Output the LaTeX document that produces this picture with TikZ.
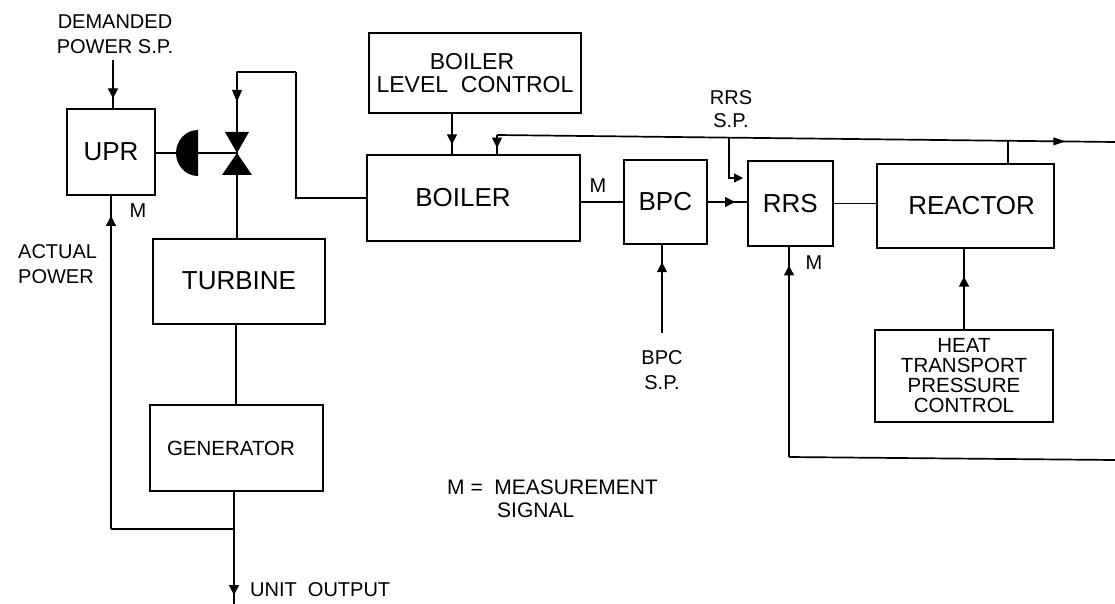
\documentclass[tikz,border=0pt]{standalone}
\usepackage{fontspec}
\setmainfont{Liberation Sans}
\usetikzlibrary{arrows.meta}
\usetikzlibrary{positioning}
\usetikzlibrary{calc}
\usetikzlibrary{decorations.markings}

\begin{document}
\begin{tikzpicture}[x=1pt,y=-1pt]
\tikzset{blockbox/.style={rectangle,draw,line width=2pt,align=center,inner sep=0pt,font=\fontsize{26}{30}\selectfont},
lbl/.style={inner sep=0pt,align=center,font=\fontsize{20}{25}\selectfont},
wire/.style={line width=1.1pt},
heavywire/.style={line width=1.7pt},
arrowat/.style={postaction={decorate},decoration={markings,mark=at position #1 with {\arrow{Triangle[length=10pt,width=10pt]}}}}}
\useasboundingbox (0,0) rectangle (1115,604);
\node[blockbox,minimum width=88pt,minimum height=86pt](upr) at (111,152){UPR};
\node[blockbox,minimum width=172pt,minimum height=85pt](turbine) at (239,281){TURBINE};
\node[blockbox,minimum width=173pt,minimum height=86pt,font=\fontsize{20.5}{24}\selectfont](generator) at (236,448){\hspace*{-10pt}GENERATOR};
\node[blockbox,minimum width=213pt,minimum height=85pt](boiler) at (473,198){BOILER\hspace*{20pt}};
\node[blockbox,minimum width=212pt,minimum height=80pt,font=\fontsize{23}{23}\selectfont](level) at (475,73){\hspace*{-6pt}BOILER\\LEVEL~~CONTROL};
\node[blockbox,minimum width=83pt,minimum height=83pt](bpc)[right=42.3pt of boiler,yshift=-4pt]{BPC};
\node[blockbox,minimum width=85pt,minimum height=84pt](rrs)[right=39pt of bpc,yshift=-1.5pt]{RRS};
\node[blockbox,minimum width=177pt,minimum height=83pt](reactor)[right=42.3pt of rrs,yshift=-2.5pt]{\hspace*{12pt}REACTOR};
\node[blockbox,minimum width=178pt,minimum height=92pt,font=\fontsize{20.5}{20}\selectfont](heat) at (964,376){HEAT\\TRANSPORT\\PRESSURE\\CONTROL};
\node[lbl](demanded) at (115,34){DEMANDED\\POWER S.P.};
\node[lbl,align=left,anchor=west](actual) at (18,264){ACTUAL\\POWER};
\node[lbl](mupr) at (138,211){M};
\node[lbl](mboiler) at (598,186){M};
\node[lbl](mrrs) at (814,263){M};
\node[lbl,font=\fontsize{20}{23}\selectfont](rrssp) at (731,109){RRS\\S.P.};
\node[lbl](bpcsp) at (662,370){BPC\\S.P.};
\node[lbl,align=left,anchor=west,font=\fontsize{21}{23}\selectfont](legend) at (447,499){M =~~MEASUREMENT\\\hspace{50pt}SIGNAL};
\node[lbl,anchor=west](unitout) at (250,590){UNIT~~OUTPUT};
\coordinate(valve) at (237,153);
\coordinate(hinge) at (198,153);
\coordinate(dmdtop) at (113,60);
\coordinate(steamtop) at (237,72);
\coordinate(steamturn) at (296,72);
\coordinate(busleft) at (497,135);
\coordinate(busright) at (1115,142);
\coordinate(outend) at (234,604);
\coordinate(tapoff) at (234,529);
\coordinate(bpcend) at (662,333);
\coordinate(rrsturn) at (789,457);
\coordinate(rrsend) at (1115,460);
\coordinate(spdrop) at (729,138);
\coordinate(sparrow) at (743,178);
\coordinate(reactortap) at (1008,141);
% valve and actuator
\fill (valve) -- ++(-12,-21) -- ++(24,0) -- cycle;
\fill (valve) -- ++(-15,22) -- ++(30,0) -- cycle;
\fill (hinge) ++(0,-23) arc[start angle=90,end angle=270,x radius=22,y radius=-23] -- cycle;
\draw[wire](upr.east |- hinge) -- (hinge);
\draw[heavywire](hinge) -- (valve);
\draw[heavywire,line cap=round](valve) -- (steamtop);
\draw[wire](steamtop) -- (steamturn);
\fill (237,102) -- ++(-5,-12) -- ++(10,0) -- cycle;
% steam and turbine
\draw[wire](steamturn) -- (steamturn |- boiler.west) -- (boiler.west);
\draw[wire](valve) -- (turbine.north -| valve);
\draw[wire](turbine.south -| generator.north) -- (generator.north);
\draw[heavywire,arrowat=0.92](generator.south -| outend) -- (outend);
\draw[heavywire](tapoff) -- (tapoff -| upr.south);
\draw[wire,arrowat=0.94](tapoff -| upr.south) -- (upr.south);
\draw[wire,arrowat=0.8](dmdtop) -- (dmdtop |- upr.north);
% boiler side
\draw[wire,arrowat=0.75](level.south -| 452,0) -- (boiler.north -| 452,0);
\draw[wire](boiler.east |- bpc.west) -- (bpc.west);
\draw[wire,arrowat=0.7](bpc.east) -- (bpc.east -| rrs.west);
\draw[heavywire](rrs.east) -- (rrs.east -| reactor.west);
\draw[wire,arrowat=0.8](bpcend) -- (bpc.south -| bpcend);
% bus along the top
\draw[heavywire](busleft) -- (busright);
\draw[wire,arrowat=0.65](busleft) -- (boiler.north -| busleft);
\draw[heavywire](reactor.north -| reactortap) -- (reactortap);
\fill ($(busleft)!0.91!(busright)$) ++(6,0) -- ++(-12,-4) -- ++(0,8) -- cycle;
\draw[wire,-{Triangle[length=9pt,width=9pt]}](spdrop) |- (sparrow);
% measurement from the reactor
\draw[wire,arrowat=0.91](rrsturn) -- (rrs.south -| rrsturn);
\draw[heavywire](rrsturn) -- (rrsend);
\draw[heavywire,arrowat=0.65](heat.north -| 964,0) -- (reactor.south -| 964,0);
\end{tikzpicture}
\end{document}
